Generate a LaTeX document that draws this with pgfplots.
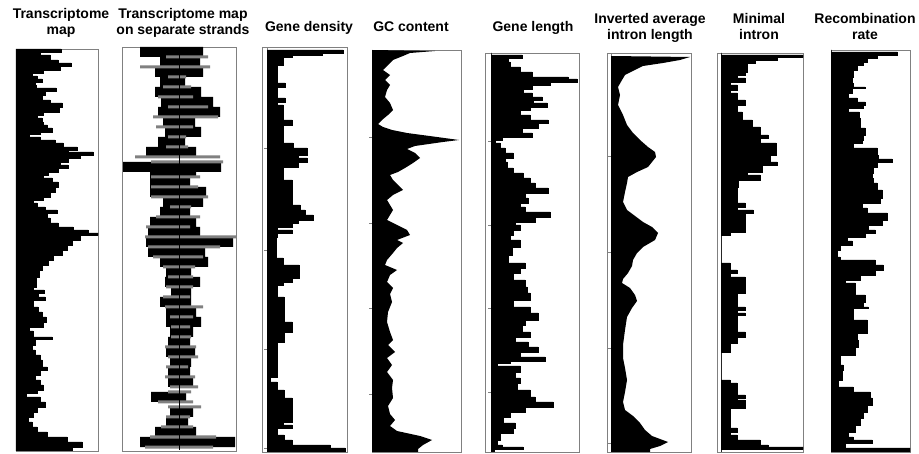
\documentclass[border=0pt]{standalone}
\usepackage{pgfplots}
\pgfplotsset{compat=1.18}
\usepackage{fontspec}
\setmainfont{Liberation Sans}
\definecolor{frame}{gray}{0.5}
\definecolor{strand}{gray}{0.5}
\pgfplotsset{
  panel/.style={scale only axis, anchor=south west, y dir=reverse,
    xtick=\empty, ytick=\empty, axis line style={draw=frame, line width=0.8pt},
    tick style={draw=frame, line width=0.6pt}, major tick length=3pt,
    tick align=outside, ytick pos=left, yticklabels={}},
  prof/.style={xbar interval, fill=black, draw=black, line width=0.2pt},
}
\newcommand{\ttl}[3]{\node[anchor=base, font=\bfseries\fontsize{14}{16}\selectfont] at (#1pt,{454pt-#2pt}) {#3};}
\begin{document}
\begin{tikzpicture}
\path[use as bounding box] (0,0) rectangle (919pt,454pt);

% titles
\ttl{61}{19}{Transcriptome}
\ttl{61}{35}{map}
\ttl{183}{19}{Transcriptome map}
\ttl{183}{35}{on separate strands}
\ttl{309}{32}{Gene density}
\ttl{411}{32}{GC content}
\ttl{533}{32}{Gene length}
\ttl{650}{23.5}{Inverted average}
\ttl{650}{39.5}{intron length}
\ttl{759}{23.5}{Minimal}
\ttl{759}{39.5}{intron}
\ttl{865}{23.5}{Recombination}
\ttl{865}{39.5}{rate}

% 1 transcriptome map
\begin{axis}[panel, at={(16pt,3pt)}, width=82pt, height=402pt,
  xmin=16, xmax=98, ymin=49, ymax=451]
\addplot[prof] coordinates {
(61,49) (40,52) (50,55) (58,60) (71,63) (60,66) (43,70) (32,73) (37,76) (42,79)
(35,82) (36,85) (56,88) (45,91) (42,95) (50,100) (62,103) (59,107) (43,112) (37,115)
(42,118) (43,122) (47,125) (52,128) (40,132) (29,134) (40,137) (55,140) (63,143) (77,147)
(68,150) (93,152) (80,155) (68,158) (60,162) (68,165) (58,168) (48,172) (43,175) (52,178)
(58,182) (55,187) (50,192) (43,197) (33,200) (37,203) (45,207) (57,210) (47,213) (50,218)
(58,223) (73,227) (88,230) (98,233) (80,235) (72,240) (67,245) (62,250) (53,255) (48,260)
(42,265) (39,270) (36,277) (33,287) (44,290) (38,293) (45,297) (33,300) (38,307) (42,312)
(46,317) (43,322) (29,327) (33,331) (52,337) (35,339) (32,345) (35,350) (40,355) (42,360)
(47,367) (40,370) (35,375) (40,380) (43,385) (37,390) (26,393) (40,397) (45,402) (37,407)
(33,412) (28,417) (32,422) (37,427) (47,432) (67,437) (82,442) (72,447) (72,451)};
\end{axis}

% 2 transcriptome map on separate strands
\begin{axis}[panel, at={(122pt,3pt)}, width=114pt, height=404pt,
  xmin=-57, xmax=57, ymin=47, ymax=451]
\addplot[xbar, bar width=10pt, bar shift=0pt, fill=black, draw=none] coordinates {
(-39,52) (-19,62) (-24,72) (-19,82) (-24,92) (-18,102) (-21,112) (-16,122) (-14,132) (-21,142)
(-33,152) (-56,167) (-29,172) (-29,182) (-29,192) (-16,202) (-19,212) (-29,222) (-31,232) (-33,242)
(-31,252) (-19,262) (-13,272) (-14,282) (-8,292) (-19,302) (-13,312) (-13,322) (-9,332) (-11,342)
(-13,352) (-9,362) (-11,372) (-11,382) (-28,397) (-9,412) (-13,422) (-24,432) (-39,442)};
\addplot[xbar, bar width=10pt, bar shift=0pt, fill=black, draw=none] coordinates {
(24,52) (21,62) (24,72) (6,82) (22,92) (34,102) (41,112) (16,122) (22,132) (6,142)
(17,152) (42,167) (17,172) (11,182) (27,192) (24,202) (11,212) (17,222) (21,232) (54,242)
(26,252) (29,262) (12,272) (21,282) (12,292) (12,302) (17,312) (22,322) (14,332) (11,342)
(16,352) (12,362) (11,372) (14,382) (7,397) (14,412) (9,422) (17,432) (56,442)};
\addplot[xbar, bar width=3pt, bar shift=0pt, fill=strand, draw=none] coordinates {
(-13,57) (-39,67) (-11,77) (-16,87) (-21,97) (-11,107) (-26,117) (-23,127) (-11,137) (-13,147)
(-44,157) (-28,162) (-28,177) (-28,187) (-28,197) (-9,207) (-23,217) (-33,227) (-34,237) (-31,247)
(-26,257) (-16,267) (-11,277) (-13,287) (-16,297) (-14,307) (-9,317) (-8,327) (-8,337) (-14,347)
(-11,357) (-13,367) (-14,377) (-9,387) (-11,392) (-21,402) (-11,407) (-13,417) (-18,427) (-29,437)
(-34,447)};
\addplot[xbar, bar width=3pt, bar shift=0pt, fill=strand, draw=none] coordinates {
(29,57) (31,67) (7,77) (12,87) (14,97) (29,107) (39,117) (14,127) (7,137) (9,147)
(41,157) (44,162) (21,177) (19,187) (29,197) (12,207) (21,217) (11,227) (57,237) (41,247)
(24,257) (16,267) (14,277) (14,287) (11,297) (24,307) (14,317) (11,327) (12,337) (17,347)
(19,357) (9,367) (16,377) (19,387) (12,392) (14,402) (22,407) (11,417) (14,427) (37,437)
(34,447)};
\draw[black, line width=0.5pt] (axis cs:0,50) -- (axis cs:0,450);
\end{axis}

% 3 gene density
\draw[frame, line width=0.8pt] (262pt,2pt) rectangle (347pt,407pt);
\begin{axis}[panel, at={(267pt,2pt)}, width=80pt, height=405pt,
  xmin=267, xmax=347, ymin=47, ymax=452, ytick={148,250,349,448}]
\addplot[prof] coordinates {
(343,50) (322,53) (292,55) (283,57) (277,65) (285,83) (277,87) (285,98) (277,102) (283,105)
(292,120) (283,125) (293,143) (307,148) (298,155) (307,158) (298,162) (283,167) (292,180) (300,205)
(305,210) (313,215) (298,220) (292,223) (277,227) (292,230) (277,233) (276,237) (283,258) (299,265)
(292,278) (283,282) (277,285) (284,297) (277,312) (284,313) (292,322) (284,332) (277,342) (270,377)
(277,382) (284,390) (292,398) (283,422) (292,425) (277,428) (284,435) (292,440) (330,445) (345,448)
(345,452)};
\end{axis}

% 4 GC content
\begin{axis}[panel, at={(372pt,2pt)}, width=89pt, height=402pt,
  xmin=372, xmax=461, ymin=50, ymax=452, ytick={137,223,308,394}]
\addplot[fill=black, draw=none] coordinates {
(372,50) (435,51) (410,53) (403,56) (393,60) (388,65) (383,70) (390,75) (385,80) (390,85)
(387,90) (385,97) (390,103) (393,110) (388,115) (382,120) (378,124) (383,127) (392,130) (407,133)
(437,137) (459,140) (443,142) (415,146) (407,149) (415,153) (420,158) (413,163) (405,168) (398,172)
(390,175) (393,180) (398,185) (403,190) (393,195) (387,200) (390,205) (393,210) (390,215) (387,220)
(397,225) (407,230) (410,235) (397,240) (403,243) (397,248) (393,253) (387,260) (385,265) (397,270)
(390,275) (387,282) (393,288) (390,294) (392,302) (388,312) (387,322) (390,332) (393,340) (388,345)
(395,352) (387,358) (392,365) (387,372) (393,380) (392,388) (393,398) (388,406) (390,414) (395,420)
(390,426) (397,431) (420,436) (432,440) (423,445) (418,449) (418,452) (372,452)};
\end{axis}

% 5 gene length
\draw[frame, line width=0.8pt] (485pt,2pt) rectangle (579pt,401pt);
\begin{axis}[panel, at={(491pt,2pt)}, width=88pt, height=399pt,
  xmin=491, xmax=579, ymin=53, ymax=452, ytick={141,225,308,392}]
\addplot[prof] coordinates {
(491,53) (522,55) (508,58) (510,62) (520,67) (532,72) (568,77) (577,79) (550,82) (532,85)
(523,89) (532,93) (542,97) (533,100) (547,103) (530,107) (520,110) (530,115) (548,120) (538,123)
(522,128) (532,133) (502,137) (495,140) (500,143) (505,148) (513,153) (505,158) (507,162) (513,168)
(523,173) (530,178) (535,183) (548,188) (525,193) (528,198) (520,203) (525,207) (550,212) (535,217)
(515,222) (520,225) (513,230) (510,235) (520,240) (512,247) (508,255) (525,263) (520,268) (513,273)
(525,280) (527,287) (530,293) (513,300) (530,307) (538,313) (525,320) (522,325) (530,332) (515,337)
(528,342) (538,347) (520,352) (545,357) (510,361) (497,363) (520,366) (515,372) (520,378) (517,383)
(530,390) (535,397) (553,402) (525,407) (510,412) (503,417) (515,423) (513,428) (500,433) (497,440)
(502,445) (523,447) (494,449) (494,452)};
\end{axis}

% 6 inverted average intron length
\draw[frame, line width=0.8pt] (607pt,2pt) rectangle (691pt,401pt);
\begin{axis}[panel, at={(611pt,2pt)}, width=80pt, height=399pt,
  xmin=611, xmax=691, ymin=53, ymax=452, ytick={156,252,348,443}]
\addplot[fill=black, draw=none] coordinates {
(611,56) (690,57) (680,60) (663,63) (643,66) (635,70) (625,75) (622,80) (618,87) (620,95)
(618,105) (623,115) (627,125) (633,133) (640,140) (648,147) (655,152) (656,157) (652,162) (648,167)
(637,172) (628,177) (627,183) (625,192) (623,202) (627,210) (635,216) (643,222) (652,227) (658,233)
(655,240) (643,247) (637,253) (633,260) (632,266) (628,273) (623,279) (622,283) (630,288) (635,295)
(637,301) (632,308) (627,317) (625,330) (623,345) (623,358) (625,368) (627,380) (625,392) (623,402)
(625,410) (633,416) (640,423) (645,430) (652,436) (668,442) (660,446) (650,449) (650,452) (611,452)};
\end{axis}

% 7 minimal intron
\draw[frame, line width=0.8pt] (717pt,2pt) rectangle (803pt,401pt);
\begin{axis}[panel, at={(721pt,2pt)}, width=82pt, height=399pt,
  xmin=721, xmax=803, ymin=53, ymax=452]
\addplot[prof] coordinates {
(721,53) (803,55) (777,57) (755,60) (747,63) (745,72) (737,75) (745,78) (730,82) (737,85)
(730,90) (737,93) (745,100) (737,105) (742,112) (752,120) (760,127) (768,135) (760,138) (776,143)
(770,155) (777,162) (762,165) (747,172) (760,175) (738,180) (737,187) (745,203) (737,207) (753,210)
(745,213) (730,232) (721,235) (730,263) (737,270) (730,273) (745,277) (737,293) (745,307) (737,310)
(745,313) (737,315) (745,332) (737,337) (730,343) (721,352) (730,380) (737,383) (745,395) (737,398)
(745,400) (730,408) (737,428) (730,432) (737,435) (760,440) (768,445) (803,447) (721,449) (721,452)};
\end{axis}

% 8 recombination rate
\begin{axis}[panel, at={(831pt,2pt)}, width=79pt, height=402pt,
  xmin=831, xmax=910, ymin=50, ymax=452]
\addplot[prof] coordinates {
(831,50) (897,52) (877,55) (867,58) (863,62) (857,65) (853,70) (852,77) (853,83) (865,87)
(852,88) (848,93) (857,98) (865,102) (863,105) (848,108) (859,112) (860,118) (865,128) (863,135)
(862,140) (853,143) (877,148) (878,155) (892,159) (877,162) (873,167) (872,173) (873,178) (877,183)
(882,190) (880,198) (862,203) (867,208) (887,213) (882,220) (868,225) (875,230) (865,233) (847,237)
(852,241) (840,245) (837,250) (840,257) (875,260) (883,265) (875,270) (860,275) (845,280) (855,283)
(865,295) (863,302) (868,307) (853,308) (867,320) (857,333) (858,340) (855,347) (840,355) (843,365)
(842,370) (838,380) (853,387) (870,392) (872,398) (867,405) (863,412) (860,418) (855,425) (848,432)
(853,437) (872,440) (845,443) (910,448) (910,452)};
\end{axis}
\end{tikzpicture}
\end{document}
